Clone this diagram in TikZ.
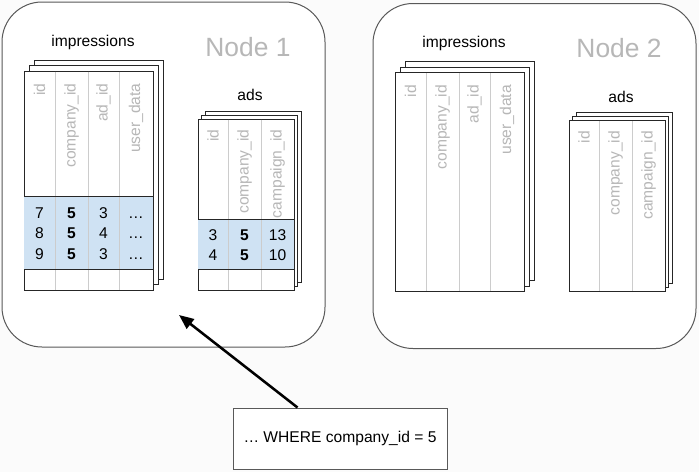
\documentclass[tikz,border=0pt]{standalone}
\usepackage{fontspec}
\setmainfont{Liberation Sans}
\usepackage{xcolor}
\usetikzlibrary{arrows.meta}
\definecolor{paper}{HTML}{FBFBFB}
\definecolor{hitblue}{HTML}{CFE2F3}
\definecolor{faint}{HTML}{B7B7B7}
\definecolor{rulegray}{HTML}{CCCCCC}
\definecolor{edgegray}{HTML}{595959}

\begin{document}
\begin{tikzpicture}[x=0.75pt, y=-0.75pt,
        every node/.style={font=\fontsize{11.7}{14}\selectfont, inner sep=1pt},
        server/.style={draw=edgegray, fill=white, line width=0.75pt, rounded corners=30pt},
        sheet/.style={draw=black!85, fill=white, line width=0.75pt},
        colrule/.style={draw=rulegray, line width=0.75pt},
        colname/.style={rotate=90, anchor=east, text=faint},
        caption/.style={anchor=base},
        title/.style={anchor=base, text=faint, font=\fontsize{19.8}{24}\selectfont},
        cell/.style={anchor=base},
        keycell/.style={anchor=base, font=\fontsize{11.7}{14}\selectfont\bfseries},
        query/.style={draw=edgegray, fill=white, line width=0.75pt, minimum width=160.5pt, minimum height=45.75pt},
        pointer/.style={-{Triangle[length=11pt, width=9pt]}, line width=1.9pt}]
        \fill[paper] (0,0) rectangle (699,472);
        \useasboundingbox (0,0) rectangle (699,472);
        
        \foreach \n/\dx/\dy in {1/0/0, 2/371/1.5} {
            \begin{scope}[shift={(\dx,\dy)}]
                \draw[server] (2,2) rectangle (325,347);
                \foreach \o in {2,1,0}
                    \draw[sheet] ({24+5*\o},{71-5.5*\o}) rectangle ({153+5*\o},{290-5.5*\o});
                \foreach \o in {2,1,0}
                    \draw[sheet] ({198+3.5*\o},{119-4*\o}) rectangle ({294+3.5*\o},{290-4*\o});
                \ifnum\n=1
                    \fill[hitblue] (24,196) rectangle (153,269);
                    \fill[hitblue] (198,219) rectangle (294,269);
                \fi
                \foreach \c in {55,88,119}
                    \draw[colrule] (\c,71.5) -- (\c,289.5);
                \foreach \c in {228,261}
                    \draw[colrule] (\c,119.5) -- (\c,289.5);
                \ifnum\n=1
                    \draw[sheet] (24,196) -- (153,196)
                        (24,269) -- (153,269)
                        (198,219) -- (294,219)
                        (198,269) -- (294,269);
                \fi
                
                \node[caption] (impr\n) at (93,46) {impressions};
                \node[caption] (ads\n) at (250,100.5) {ads};
                \node[title] (title\n) at (248,56) {Node \n};
                
                \node[colname] (impr\n-id) at (39.5,82) {id};
                \node[colname] (impr\n-company) at (71.5,82) {company\_id};
                \node[colname] (impr\n-ad) at (103.5,82) {ad\_id};
                \node[colname] (impr\n-user) at (136,82) {user\_data};
                \node[colname] (ads\n-id) at (213,128) {id};
                \node[colname] (ads\n-company) at (244.5,128) {company\_id};
                \node[colname] (ads\n-campaign) at (277.5,128) {campaign\_id};
            \end{scope}
        }
        
        \foreach \a/\b/\y [count=\r] in {7/3/218, 8/4/238.5, 9/3/259} {
            \node[cell] (imp\r-id) at (39.5,\y) {\a};
            \node[keycell] (imp\r-company) at (71.5,\y) {5};
            \node[cell] (imp\r-ad) at (103.5,\y) {\b};
            \node[cell] (imp\r-user) at (136,\y) {…};
        }
        \foreach \a/\b/\y [count=\r] in {3/13/240, 4/10/260} {
            \node[cell] (ad\r-id) at (213,\y) {\a};
            \node[keycell] (ad\r-company) at (244.5,\y) {5};
            \node[cell] (ad\r-campaign) at (277.5,\y) {\b};
        }
        
        \node[query] (where) at (340,438.5) {… WHERE company\_id = 5};
        \coordinate (tip) at (179,315);
        \draw[pointer] ([xshift=48.75pt]where.north west) to (tip);
    \end{tikzpicture}
\end{document}
